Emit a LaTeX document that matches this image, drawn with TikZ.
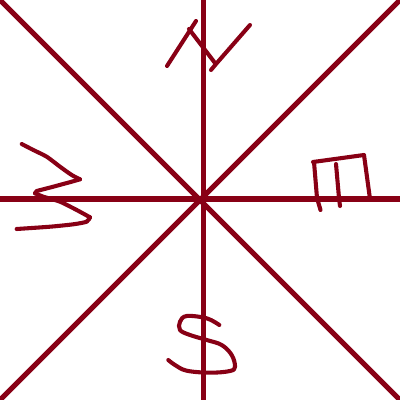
\documentclass[tikz,border=0pt]{standalone}
\usepackage{tikz}
\definecolor{compassred}{RGB}{136,0,21}
\tikzset{
    axisline/.style={line width=3.6pt, compassred},
    letterstroke/.style={line width=2.9pt, compassred, line cap=round, line join=round}
}

\begin{document}
\begin{tikzpicture}[x=0.025cm, y=-0.025cm]
    \useasboundingbox (0,0) rectangle (400,400);

    % ===== Compass lines =====
    \draw[axisline] (0,0) -- (400,400);
    \draw[axisline] (0,400) -- (400,0);
    \draw[axisline] (203.5,0) -- (203.5,400);
    \draw[axisline] (0,199) -- (400,199);

    % ===== N =====
    \draw[letterstroke] (167,66) -- (196,21);
    \draw[letterstroke] (189,29) -- (215,63);
    \draw[letterstroke] (211,70) -- (216,64) -- (250,25);

    % ===== W =====
    \draw[letterstroke] plot[smooth, tension=0.4] coordinates {
        (21.7,144) (33.3,150) (46.7,156.7) (60,166.7) (71.7,175) (80,179.3)};
    \draw[letterstroke] (80,179.3) -- (71.7,181.7) -- (53.3,186.7) -- (36.7,191) -- (35,193.3);
    \draw[letterstroke] plot[smooth, tension=0.4] coordinates {
        (35,193.3) (43.3,196.7) (60,201.7) (76.7,210) (90,217.3)};
    \draw[letterstroke] plot[smooth, tension=0.4] coordinates {
        (90,217.3) (86.7,221.7) (73.3,224.3) (50,226.7) (16.7,229)};

    % ===== E =====
    \draw[letterstroke] (313,162) -- (364,155) -- (370,199);
    \draw[letterstroke] (314,162) -- (317,198) -- (320.5,210);
    \draw[letterstroke] (336,164) -- (339,198) -- (340,206);

    % ===== S =====
    \draw[letterstroke] plot[smooth, tension=0.6] coordinates {
        (219.3,325) (206.7,318.3) (186.7,316) (180,321.7) (180,330) (190,335)
        (206.7,340) (221.7,345) (231.7,355) (235,366.7) (230,371) (210,372.7)
        (186.7,370.7) (175,365) (168.3,360)};

\end{tikzpicture}
\end{document}
